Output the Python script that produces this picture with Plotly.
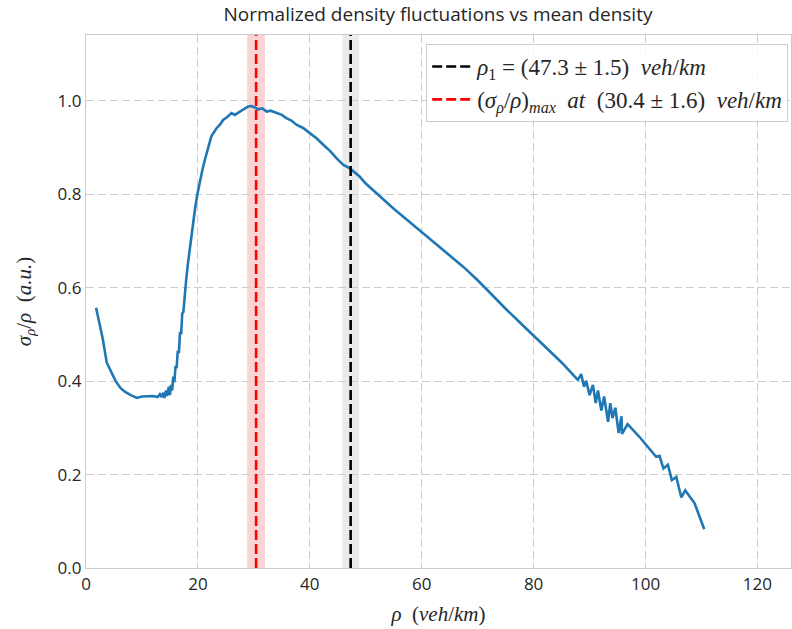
import plotly.graph_objects as go

# ---- data ----
rho = [1.8, 2.5, 3.0, 3.7, 4.5, 5.3, 6.2, 7.0, 8.0, 9.1, 10.0, 11.0, 12.0, 12.8,
       13.2, 13.5, 13.8, 14.0, 14.3, 14.5, 14.8, 15.0, 15.2, 15.4, 15.6, 15.8, 16.0,
       16.2, 16.4, 16.6, 16.8, 17.0, 17.2, 17.4, 17.6, 17.9, 18.2, 18.5, 18.8, 19.1,
       19.5, 19.9, 20.4, 20.8, 21.25, 21.8, 22.4, 23.3, 24.0, 24.5, 25.2, 26.0, 26.6,
       27.5, 28.2, 29.0, 29.6, 30.2, 30.8, 31.5, 32.3, 33.0, 34.0, 35.0, 35.8, 36.7,
       37.6, 38.8, 40.0, 41.2, 42.4, 43.6, 44.8, 46.0, 47.1, 48.0, 48.9, 50.0, 51.2,
       52.4, 55.0, 58.0, 60.0, 62.5, 65.0, 67.5, 70.0, 72.5, 75.0, 77.5, 80.0, 82.5,
       85.0, 87.9, 88.5, 89.0, 89.4, 90.0, 90.6, 91.1, 91.5, 92.1, 92.6,
       93.3, 93.7, 94.1, 94.6, 95.2, 95.7, 95.8, 96.8, 98.9, 100.1, 101.9, 102.5,
       103.2, 104.0, 104.7, 105.5, 106.4, 107.1, 108.75, 110.5]
ratio = [0.557, 0.52, 0.49, 0.44, 0.42, 0.40, 0.385, 0.377, 0.370, 0.364, 0.367, 0.368, 0.368, 0.366,
         0.372, 0.366, 0.375, 0.364, 0.380, 0.368, 0.388, 0.370, 0.392, 0.380, 0.410, 0.398, 0.432,
         0.428, 0.465, 0.460, 0.505, 0.500, 0.545, 0.548, 0.585, 0.617, 0.650, 0.680, 0.710, 0.740,
         0.770, 0.800, 0.831, 0.852, 0.874, 0.900, 0.924, 0.941, 0.950, 0.959, 0.965, 0.974, 0.970,
         0.977, 0.983, 0.988, 0.989, 0.985, 0.982, 0.984, 0.977, 0.979, 0.974, 0.970, 0.963, 0.958,
         0.949, 0.942, 0.931, 0.920, 0.906, 0.893, 0.877, 0.863, 0.856, 0.848, 0.838, 0.823, 0.810,
         0.795, 0.769, 0.739, 0.719, 0.694, 0.670, 0.644, 0.616, 0.585, 0.555, 0.526, 0.497, 0.467,
         0.440, 0.4026, 0.415, 0.388, 0.401, 0.370, 0.392, 0.353, 0.380, 0.337, 0.367,
         0.313, 0.353, 0.321, 0.343, 0.289, 0.325, 0.287, 0.308, 0.281, 0.263, 0.238, 0.240,
         0.213, 0.221, 0.188, 0.195, 0.151, 0.166, 0.139, 0.083]

rho1, rho1_err = 47.3, 1.5
rho_max, rho_max_err = 30.4, 1.6

x_range = [0, 126]
y_range = [0, 1.141]

fig = go.Figure()

# uncertainty bands
fig.add_shape(type="rect", xref="x", yref="paper",
              x0=rho_max - rho_max_err, x1=rho_max + rho_max_err, y0=0, y1=1,
              fillcolor="rgba(230,60,60,0.22)", line_width=0, layer="below")
fig.add_shape(type="rect", xref="x", yref="paper",
              x0=rho1 - rho1_err, x1=rho1 + rho1_err, y0=0, y1=1,
              fillcolor="rgba(0,0,0,0.08)", line_width=0, layer="below")

fig.add_trace(go.Scatter(x=rho, y=ratio, mode="lines", showlegend=False,
                         line=dict(color="#1f77b4", width=2.6)))

fig.add_trace(go.Scatter(x=[rho1, rho1], y=y_range, mode="lines",
                         line=dict(color="black", width=2.6, dash="10px,4px"),
                         name="<i>ρ</i><sub>1</sub> = (47.3 ± 1.5)  <i>veh</i>/<i>km</i>"))
fig.add_trace(go.Scatter(x=[rho_max, rho_max], y=y_range, mode="lines",
                         line=dict(color="red", width=2.6, dash="10px,4px"),
                         name="(<i>σ</i><sub><i>ρ</i></sub>/<i>ρ</i>)<sub><i>max</i></sub>  <i>at</i>  (30.4 ± 1.6)  <i>veh</i>/<i>km</i>"))

axis_common = dict(showgrid=True, gridcolor="#cccccc", griddash="8px,4px", gridwidth=1,
                   showline=True, linecolor="#cccccc", linewidth=1.2, mirror=True,
                   zeroline=False, ticks="",
                   tickfont=dict(family="Open Sans", size=17, color="#262626"))

fig.update_layout(
    width=792, height=629,
    margin=dict(l=86, r=1, t=35, b=61),
    paper_bgcolor="white", plot_bgcolor="white",
    title=dict(text="Normalized density fluctuations vs mean density",
               x=0.553, xanchor="center", y=0.977, yanchor="middle",
               font=dict(family="Open Sans", size=19, color="#262626")),
    legend=dict(x=0.996, xanchor="right", y=0.983, yanchor="top",
                bgcolor="rgba(255,255,255,0.85)", bordercolor="#cccccc", borderwidth=1,
                font=dict(family="Liberation Serif", size=23, color="#262626"),
                tracegroupgap=0, itemwidth=40),
    xaxis=dict(range=x_range, tickvals=[0, 20, 40, 60, 80, 100, 120],
               title=dict(text="<i>ρ</i>  (<i>veh</i>/<i>km</i>)", standoff=12,
                          font=dict(family="Liberation Serif", size=21, color="#262626")),
               **axis_common),
    yaxis=dict(range=y_range, tickvals=[0, 0.2, 0.4, 0.6, 0.8, 1.0], tickformat=".1f",
               title=dict(text="<i>σ</i><sub><i>ρ</i></sub>/<i>ρ</i>  (<i>a.u.</i>)", standoff=20,
                          font=dict(family="Liberation Serif", size=21, color="#262626")),
               **axis_common),
)

fig.write_html("out.html")
